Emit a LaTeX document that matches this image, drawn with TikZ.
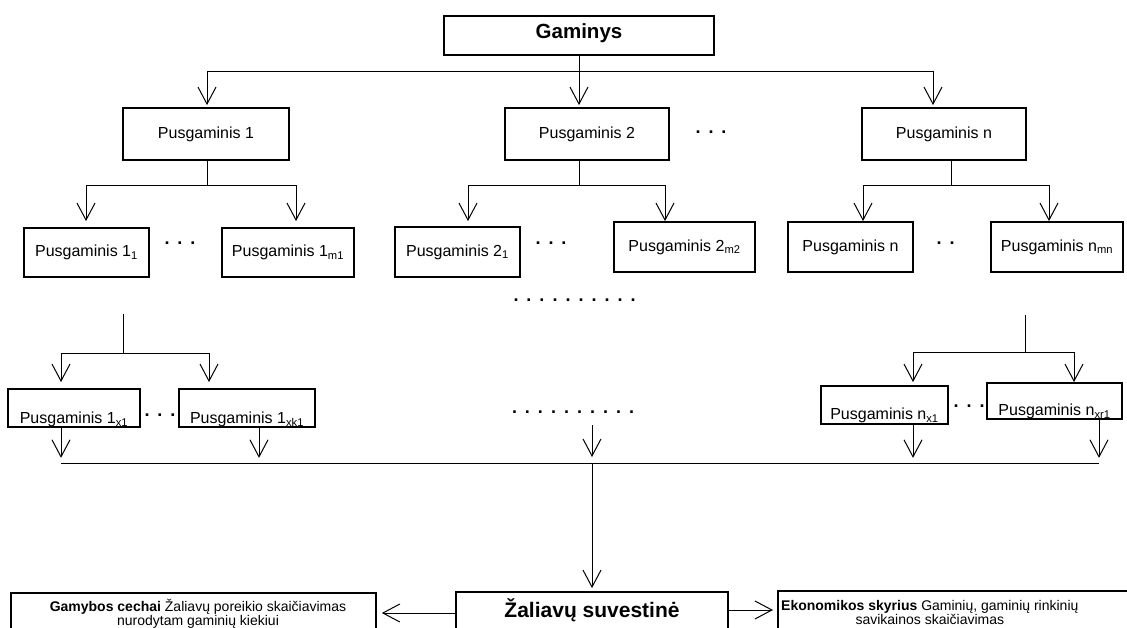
\documentclass[tikz,border=0pt]{standalone}
\usepackage{fontspec}
\setmainfont{Liberation Sans}
\usetikzlibrary{arrows.meta,calc}
\newcommand\dd{\hspace{8pt}}
\begin{document}
\begin{tikzpicture}[x=1pt,y=-1pt,
  >={Straight Barb[length=17pt,width=18pt]},
  conn/.style={line width=1pt},
  pbox/.style={draw,line width=1.8pt,inner sep=0pt,font=\fontsize{16}{19}\selectfont},
  dotsn/.style={anchor=base,inner sep=0pt,font=\bfseries\fontsize{18}{20}\selectfont},
  btext/.style={inner sep=0pt,align=center,font=\fontsize{14}{13}\selectfont}]
\useasboundingbox (0,0) rectangle (1127,628);
\clip (0,0) rectangle (1127,628);
% top
\node[pbox,minimum width=270pt,minimum height=39pt,text height=22.4pt,text depth=16.6pt,font=\bfseries\fontsize{20.5}{24}\selectfont] (G) at (579,35.5) {Gaminys};
\node[pbox,minimum width=166pt,minimum height=52pt] (P1) at (206,134) {Pusgaminis 1};
\node[pbox,minimum width=164pt,minimum height=52pt] (P2) at (587,134) {Pusgaminis 2};
\node[pbox,minimum width=164pt,minimum height=52pt] (Pn) at (944,134) {Pusgaminis n};
% level 2
\node[pbox,minimum width=125pt,minimum height=49pt] (A11) at (86.5,252.5) {Pusgaminis 1\textsubscript{1}};
\node[pbox,minimum width=132pt,minimum height=49pt] (A1m) at (288,252.5) {Pusgaminis 1\textsubscript{m1}};
\node[pbox,minimum width=125pt,minimum height=50pt] (A21) at (457.5,252) {Pusgaminis 2\textsubscript{1}};
\node[pbox,minimum width=141pt,minimum height=50pt] (A2m) at (684.5,247) {Pusgaminis 2\textsubscript{m2}};
\node[pbox,minimum width=125pt,minimum height=50pt] (An) at (850.5,247) {Pusgaminis n};
\node[pbox,minimum width=132pt,minimum height=50pt] (Anm) at (1057,247) {Pusgaminis n\textsubscript{mn}};
% level 3
\node[pbox,minimum width=132pt,minimum height=38pt,text height=34.8pt,text depth=3.2pt] (B1x) at (74,408) {Pusgaminis 1\textsubscript{x1}};
\node[pbox,minimum width=136pt,minimum height=38pt,text height=34.8pt,text depth=3.2pt] (B1k) at (247,408) {Pusgaminis 1\textsubscript{xk1}};
\node[pbox,minimum width=127pt,minimum height=38pt,text height=33.8pt,text depth=4.2pt] (Bnx) at (884.5,405) {Pusgaminis n\textsubscript{x1}};
\node[pbox,minimum width=135pt,minimum height=36pt,text height=32.8pt,text depth=3.2pt] (Bnr) at (1054.5,401) {Pusgaminis n\textsubscript{xr1}};
% bottom
\node[pbox,minimum width=272pt,minimum height=60pt,text height=25.5pt,text depth=34.5pt,font=\bfseries\fontsize{21}{25}\selectfont] (Z) at (592,622) {Žaliavų suvestinė};
\node[pbox,minimum width=365pt,minimum height=70pt,anchor=north west] (L) at (10,592) {};
\node[btext,anchor=north] (Lt) at (198,599) {\textbf{Gamybos cechai} Žaliavų poreikio skaičiavimas\\nurodytam gaminių kiekiui};
\node[pbox,minimum width=420pt,minimum height=70pt,anchor=north west] (R) at (777,590) {};
\node[btext,anchor=north west] (Rt) at (781,600) {\textbf{Ekonomikos skyrius} Gaminių, gaminių rinkinių\\savikainos skaičiavimas};
% dots
\node[dotsn] (d0) at (711,133.2) {.\dd.\dd.};
\node[dotsn] (d1) at (180,244.2) {.\dd.\dd.};
\node[dotsn] (d2) at (551,244.2) {.\dd.\dd.};
\node[dotsn] (d3) at (945.5,244.2) {.\dd.};
\node[dotsn] (d4) at (574.5,301.2) {.\dd.\dd.\dd.\dd.\dd.\dd.\dd.\dd.\dd.};
\node[dotsn] (d5) at (573,413.2) {.\dd.\dd.\dd.\dd.\dd.\dd.\dd.\dd.\dd.};
\node[dotsn] (d6) at (160,416.2) {.\dd.\dd.};
\node[dotsn] (d7) at (969,407.2) {.\dd.\dd.};
% level 1 connectors
\coordinate (g0) at ($(G.south)+(0,16)$);
\draw[conn,->] (G.south) -- ($(P2.north)+(-8,-2)$);
\draw[conn,->] (g0) -| ($(P1.north)+(1,-2)$);
\draw[conn,->] (g0) -| ($(Pn.north)+(-11,-2)$);
% level 2 connectors
\coordinate (j1) at ($(P1.south)+(1,25)$);
\draw[conn] (P1.south -| j1) -- (j1);
\draw[conn,->] (j1) -| ($(A11.north)+(-0.5,-6)$);
\draw[conn,->] (j1) -| ($(A1m.north)+(8,-6)$);
\coordinate (j2) at ($(P2.south)+(-8,25)$);
\draw[conn] (P2.south -| j2) -- (j2);
\draw[conn,->] (j2) -| ($(A21.north)+(10.5,-5)$);
\draw[conn,->] (j2) -| ($(A2m.north)+(-19.5,0)$);
\coordinate (j3) at ($(Pn.south)+(7,25)$);
\draw[conn] (Pn.south -| j3) -- (j3);
\draw[conn,->] (j3) -| ($(An.north)+(12.5,0)$);
\draw[conn,->] (j3) -| ($(Anm.north)+(-8,0)$);
% level 3 connectors
\coordinate (s4) at (123,314);
\coordinate (j4) at (123,353);
\draw[conn] (s4) -- (j4);
\draw[conn,->] (j4) -| ($(B1x.north)+(-13,-6)$);
\draw[conn,->] (j4) -| ($(B1k.north)+(-38,-6)$);
\coordinate (s5) at (1025,315);
\coordinate (j5) at (1025,352);
\draw[conn] (s5) -- (j5);
\draw[conn,->] (j5) -| ($(Bnx.north)+(28.5,-3)$);
\draw[conn,->] (j5) -| ($(Bnr.north)+(19.5,0)$);
% collecting line
\coordinate (bl) at (61,463);
\coordinate (br) at (1099,463);
\draw[conn] (bl) -- (br);
\draw[conn,->] ($(B1x.south)+(-13,0)$) -- ($(B1x.south)+(-13,30)$);
\draw[conn,->] ($(B1k.south)+(12,0)$) -- ($(B1k.south)+(12,30)$);
\coordinate (m0) at (592,425);
\draw[conn,->] (m0) -- ++(0,32);
\draw[conn,->] ($(Bnx.south)+(28.5,0)$) -- ($(Bnx.south)+(28.5,33)$);
\draw[conn,->] ($(Bnr.south)+(44.5,0)$) -- ($(Bnr.south)+(44.5,38)$);
\coordinate (zj) at (592,463);
\draw[conn,->] (zj) -- ($(Z.north)+(0,-3)$);
\coordinate (zl) at ($(Z.west)+(0,-9)$);
\draw[conn,->,shorten >=5pt] (zl) -- (zl -| L.east);
\coordinate (zr) at ($(Z.east)+(0,-12)$);
\draw[conn,->,shorten >=4pt] (zr) -- (zr -| R.west);
\end{tikzpicture}
\end{document}
